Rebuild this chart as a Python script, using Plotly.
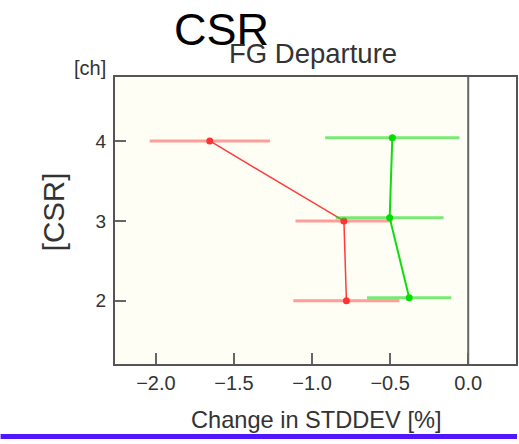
import plotly.graph_objects as go

# data
channels = [4, 3, 2]
red_x = [-1.655, -0.796, -0.78]
red_err = [0.385, 0.31, 0.34]
green_y = [4.04, 3.04, 2.04]
green_x = [-0.486, -0.503, -0.378]
green_err = [0.43, 0.345, 0.27]
x_ticks = [-2.0, -1.5, -1.0, -0.5, 0.0]
y_ticks = [2, 3, 4]

W, H = 519, 444
L, R, T, B = 115, 518, 77, 364
PW, PH = R - L, B - T


def px(x):
    return (x - L) / PW


def py(y):
    return (B - y) / PH


fig = go.Figure()
fig.add_trace(go.Scatter(
    x=red_x, y=channels, mode="lines+markers",
    line=dict(color="#ff3b3b", width=1.5),
    marker=dict(color="#ff3333", size=7),
    error_x=dict(type="data", array=red_err, color="rgba(255,60,60,0.5)", thickness=3, width=0),
    showlegend=False,
))
fig.add_trace(go.Scatter(
    x=green_x, y=green_y, mode="lines+markers",
    line=dict(color="#10dd10", width=2),
    marker=dict(color="#00dd00", size=7),
    error_x=dict(type="data", array=green_err, color="rgba(30,220,30,0.6)", thickness=3, width=0),
    showlegend=False,
))

fig.add_shape(type="rect", xref="x", yref="y domain", x0=-2.262, x1=0, y0=0, y1=1,
              fillcolor="#fefef4", line=dict(width=0), layer="below")
fig.add_shape(type="line", xref="x", yref="y domain", x0=0, x1=0, y0=0, y1=1,
              line=dict(color="#666666", width=2), layer="above")
fig.add_shape(type="line", xref="paper", yref="paper", x0=px(0), x1=px(W), y0=py(436.5), y1=py(436.5),
              line=dict(color="#5016ff", width=5))

annos = [
    dict(text="CSR", x=px(222), y=py(29.5), font=dict(size=45, color="#000000"), xanchor="center"),
    dict(text="FG Departure", x=px(314), y=py(53), font=dict(size=27.5, color="#333333"), xanchor="center"),
    dict(text="[ch]", x=px(108), y=py(68.5), font=dict(size=20, color="#333333"), xanchor="right"),
    dict(text="[CSR]", x=px(53), y=py(212), font=dict(size=29.5, color="#333333"), xanchor="center", textangle=-90),
    dict(text="Change in STDDEV [%]", x=px(317), y=py(420), font=dict(size=23.6, color="#333333"), xanchor="center"),
]
for a in annos:
    fig.add_annotation(xref="paper", yref="paper", yanchor="middle", showarrow=False, **a)

fig.update_layout(
    width=W, height=H,
    margin=dict(l=L, r=W - R, t=T, b=H - B, pad=0),
    paper_bgcolor="white", plot_bgcolor="white",
    font=dict(family="Liberation Sans, Arial", color="#333333"),
)
fig.update_xaxes(range=[-2.262, 0.306], tickvals=x_ticks, ticktext=[f"{v:.1f}".replace("-", "\u2212") for v in x_ticks],
                 ticks="inside", ticklen=11, tickwidth=2, tickcolor="#666666",
                 showline=True, linecolor="#555555", linewidth=2, mirror=True,
                 showgrid=False, zeroline=False, tickfont=dict(size=20, color="#333333"))
fig.update_yaxes(range=[1.21, 4.80], tickvals=y_ticks, ticks="inside", ticklen=11, tickwidth=2, tickcolor="#666666",
                 showline=True, linecolor="#555555", linewidth=2, mirror=True, ticklabelstandoff=3,
                 showgrid=False, zeroline=False, tickfont=dict(size=19, color="#333333"))

fig.write_html("out.html", config={"displayModeBar": False},
               post_script="document.body.style.margin='0';document.body.style.overflow='hidden';")
